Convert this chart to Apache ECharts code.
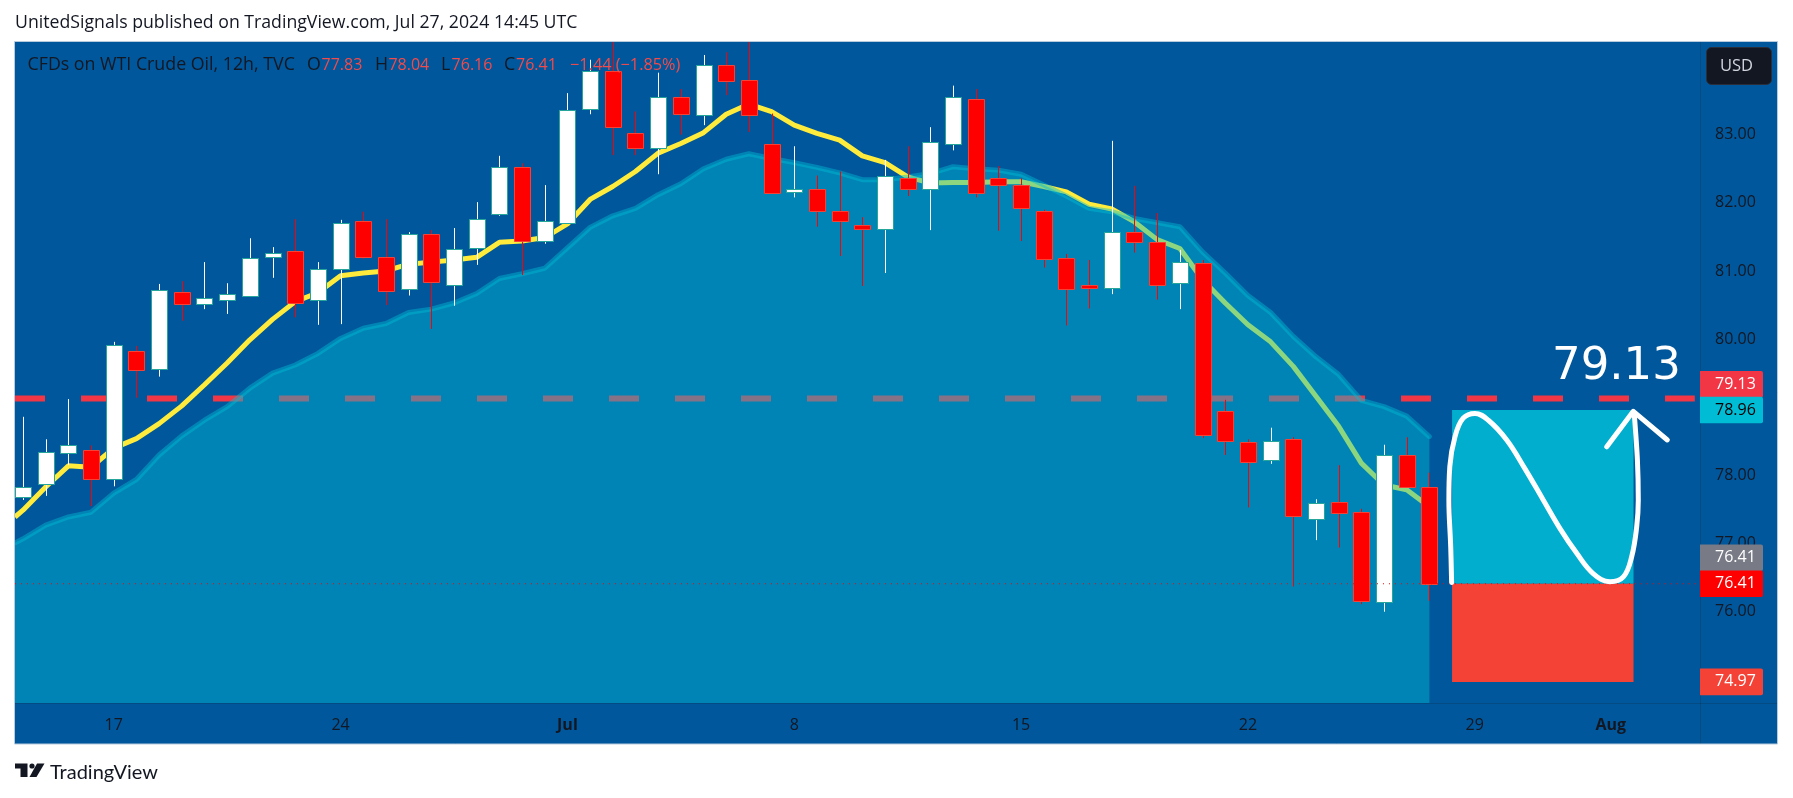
<!DOCTYPE html>
<html>
<head>
<meta charset="utf-8">
<title>CFDs on WTI Crude Oil, 12h</title>
<script src="https://cdn.jsdelivr.net/npm/echarts@6/dist/echarts.min.js"></script>
<style>
html, body { margin: 0; padding: 0; background: #fff; }
#main { width: 1793px; height: 798px; }
</style>
</head>
<body>
<div id="main"></div>
<script>
// OHLC per 12h bar
var opens = [77.68,77.87,78.33,78.37,77.94,79.82,79.56,80.69,80.51,80.58,80.64,81.21,81.29,80.58,81.03,81.73,81.20,80.73,81.54,80.79,81.33,81.83,82.52,81.44,81.71,83.38,83.93,83.03,82.81,83.56,83.29,84.03,83.80,82.86,82.16,82.21,81.88,81.67,81.61,82.36,82.21,82.86,83.53,82.36,82.26,81.88,81.19,80.80,80.75,81.57,81.42,80.83,81.11,78.94,78.49,78.22,78.53,77.36,77.61,77.46,76.14,78.30,77.83];
var highs = [78.86,78.53,79.12,78.44,79.96,79.90,80.81,80.85,81.13,80.82,81.48,81.35,81.76,81.13,81.75,81.87,81.76,81.57,81.60,81.63,82.01,82.69,82.58,82.26,83.61,84.10,84.50,83.34,83.91,83.67,84.17,84.21,84.50,83.31,82.83,82.40,82.46,81.79,82.63,82.83,83.11,83.72,83.67,82.54,82.36,81.90,81.25,81.16,82.91,82.25,81.85,81.31,81.16,79.11,78.53,78.70,78.56,77.65,78.15,77.51,78.45,78.56,78.04];
var lows = [77.64,77.70,78.15,77.55,77.84,79.14,79.45,80.27,80.44,80.37,80.62,80.90,80.32,80.21,80.22,81.18,80.50,80.64,80.15,80.49,81.09,81.81,80.94,81.40,81.70,83.30,82.70,82.70,82.42,83.00,83.14,83.58,83.04,82.14,82.08,81.65,81.22,80.78,80.97,82.10,81.60,82.77,82.08,81.59,81.44,81.05,80.20,80.45,80.66,81.27,80.58,80.44,78.55,78.30,77.53,78.17,76.37,77.05,76.94,76.11,76.00,77.83,76.16];
var closes = [77.83,78.34,78.44,77.95,79.92,79.54,80.72,80.51,80.60,80.66,81.19,81.27,80.53,81.03,81.70,81.20,80.71,81.54,80.84,81.32,81.76,82.52,81.44,81.73,83.36,83.93,83.12,82.81,83.56,83.31,84.03,83.79,83.29,82.15,82.21,81.88,81.74,81.61,82.40,82.21,82.89,83.55,82.14,82.26,81.93,81.18,80.73,80.75,81.57,81.42,80.80,81.13,78.59,78.50,78.19,78.51,77.41,77.59,77.45,76.15,78.30,77.83,76.41];

// moving averages, first value is where the line enters at the left edge of the plot
var fastMa = [77.39,77.49,77.83,78.14,78.12,78.40,78.54,78.76,79.02,79.33,79.65,79.99,80.29,80.55,80.68,80.93,80.97,81.00,81.10,81.13,81.16,81.20,81.42,81.44,81.49,81.69,82.05,82.24,82.46,82.73,82.87,83.03,83.30,83.45,83.34,83.14,83.02,82.92,82.69,82.59,82.38,82.29,82.30,82.30,82.31,82.31,82.24,82.16,81.98,81.91,81.72,81.46,81.33,80.87,80.53,80.21,79.96,79.60,79.16,78.72,78.18,77.86,77.79,77.54];
var slowMa = [77.01,77.07,77.27,77.39,77.46,77.74,77.94,78.30,78.58,78.81,79.01,79.28,79.50,79.62,79.79,80.01,80.16,80.23,80.39,80.44,80.53,80.67,80.89,80.96,81.04,81.34,81.64,81.81,81.92,82.12,82.28,82.50,82.64,82.72,82.65,82.59,82.52,82.44,82.34,82.34,82.38,82.43,82.53,82.50,82.48,82.42,82.26,82.10,81.92,81.87,81.77,81.71,81.65,81.28,80.97,80.64,80.39,80.04,79.74,79.48,79.10,79.01,78.87,78.57];

var yTicks = [76, 77, 78, 79, 80, 81, 82, 83];
var xTickBars = [4, 14, 24, 34, 44, 54, 64, 70];
var xTickLabels = ['17', '24', 'Jul', '8', '15', '22', '29', 'Aug'];

// long position drawing and the hand drawn arrow: [bar, price]
var targetPrice = 78.96;
var entryPrice = 76.41;
var stopPrice = 74.97;
var positionBars = [63, 71];
var resistance = 79.13;
var curvePoints = [[62.98,76.43],[62.94,76.95],[62.86,77.64],[62.90,78.13],[63.13,78.57],[63.49,78.84],[64.01,78.91],[64.60,78.81],[65.41,78.52],[66.21,78.10],[67.02,77.64],[67.76,77.22],[68.49,76.86],[69.22,76.56],[69.96,76.44],[70.55,76.51],[70.92,76.81],[71.14,77.25],[71.21,77.64],[71.17,78.23],[71.03,78.91]];
var arrowPoints = [[69.82,78.42],[70.99,78.94],[72.49,78.52]];

var tagValues = [79.13, 78.96, 76.41, 76.41, 74.97];
var tagShifts = [-14, 0, -26, 0, 0];
var tagFills = ['#F23645', '#00BCD4', '#787B86', '#FF0000', '#F44336'];
var tagTexts = ['#FFFFFF', '#000000', '#FFFFFF', '#FFFFFF', '#FFFFFF'];

var X_MIN = -0.353, X_MAX = 73.93;
var Y_MIN = 74.66, Y_MAX = 84.375;
var FONT = '"Open Sans", sans-serif';

var candleData = opens.map(function(o, i) {
	return [i, o, closes[i], lows[i], highs[i]];
});

function maPoints(values) {
	return values.map(function(v, i) { return [i === 0 ? X_MIN : i - 1, v]; });
}

function renderCandle(params, api) {
	var i = api.value(0), o = api.value(1), c = api.value(2);
	var up = c >= o;
	var x = Math.round(api.coord([i, o])[0]);
	var top = Math.round(api.coord([i, Math.max(o, c)])[1]);
	var bot = Math.round(api.coord([i, Math.min(o, c)])[1]);
	var hi = api.coord([i, api.value(4)])[1];
	var lo = api.coord([i, api.value(3)])[1];
	return {
		type: 'group',
		children: [{
			type: 'line',
			shape: { x1: x + 0.5, y1: hi, x2: x + 0.5, y2: lo },
			style: { stroke: up ? '#FFFFFF' : '#FF0000', lineWidth: 1 }
		}, {
			type: 'rect',
			shape: { x: x - 7.5, y: top + 0.5, width: 16, height: Math.max(bot - top, 3) },
			style: { fill: up ? '#FFFFFF' : '#FF0000', stroke: up ? '#26A69A' : '#F44336', lineWidth: 1 }
		}]
	};
}

function renderPositionBox(params, api) {
	var a = api.coord([api.value(0), api.value(2)]);
	var b = api.coord([api.value(1), api.value(3)]);
	return {
		type: 'rect',
		shape: { x: a[0], y: a[1], width: b[0] - a[0], height: b[1] - a[1] },
		style: { fill: params.dataIndex === 0 ? '#01AECD' : '#F44336' }
	};
}

function renderTag(params, api) {
	var i = params.dataIndex;
	var p = api.coord([api.value(0), api.value(1)]);
	var h = 26.6;
	var y = p[1] + tagShifts[i] - h / 2;
	return {
		type: 'group',
		children: [{
			type: 'rect',
			shape: { x: p[0], y: y, width: 63, height: h, r: [0, 2, 2, 0] },
			style: { fill: tagFills[i] }
		}, {
			type: 'text',
			style: {
				x: p[0] + 15, y: y + h / 2, text: tagValues[i].toFixed(2), fill: tagTexts[i],
				font: '16px ' + FONT, textVerticalAlign: 'middle'
			}
		}]
	};
}

function label(text, x, y, fill, font) {
	return {
		type: 'text', z: 100, x: x, y: y,
		style: { text: text, fill: fill, font: font, textVerticalAlign: 'middle' }
	};
}

var DARK = '#131722', RED = '#F44A4A';
var wordFont = '17.8px ' + FONT;
var numFont = '16px ' + FONT;
var LEGEND_Y = 65;

var option = {
	animation: false,
	backgroundColor: '#FFFFFF',
	grid: { left: 15, right: 93, top: 41, bottom: 95 },
	xAxis: {
		type: 'value', min: X_MIN, max: X_MAX,
		splitLine: { show: false }, axisLine: { show: false }, axisTick: { show: false },
		axisLabel: {
			customValues: xTickBars, color: DARK, margin: 14, fontFamily: FONT, fontSize: 16,
			formatter: function(v) {
				var s = xTickLabels[xTickBars.indexOf(v)];
				return (s === 'Jul' || s === 'Aug') ? '{b|' + s + '}' : s;
			},
			rich: { b: { fontWeight: 'bold', color: DARK, fontFamily: FONT, fontSize: 16 } }
		}
	},
	yAxis: {
		type: 'value', position: 'right', min: Y_MIN, max: Y_MAX, scale: true,
		splitLine: { show: false }, axisLine: { show: false }, axisTick: { show: false },
		axisLabel: {
			customValues: yTicks, color: DARK, margin: 15, fontFamily: FONT, fontSize: 16,
			padding: [2, 0, 0, 0],
			formatter: function(v) { return v.toFixed(2); }
		}
	},
	series: [{
		name: 'position', type: 'custom', z: 2, clip: false,
		encode: { x: [0, 1], y: [2, 3] },
		data: [[positionBars[0], positionBars[1], targetPrice, entryPrice],
			[positionBars[0], positionBars[1], entryPrice, stopPrice]],
		renderItem: renderPositionBox
	}, {
		name: 'resistance', type: 'line', z: 3, symbol: 'none',
		data: [[X_MIN, resistance], [73.7, resistance]],
		lineStyle: { color: '#F23645', width: 6, type: [30, 36] }
	}, {
		name: 'fast', type: 'line', z: 4, symbol: 'none',
		data: maPoints(fastMa),
		lineStyle: { color: '#FFEB3B', width: 5 }
	}, {
		name: 'slow', type: 'line', z: 5, symbol: 'none',
		data: maPoints(slowMa),
		lineStyle: { color: 'rgba(0,188,212,0.45)', width: 5, cap: 'round' },
		areaStyle: { color: 'rgba(0,188,212,0.45)', origin: 'start', opacity: 1 }
	}, {
		name: 'WTI', type: 'custom', z: 6, clip: true,
		encode: { x: 0, y: [1, 2, 3, 4] },
		data: candleData,
		renderItem: renderCandle
	}, {
		name: 'last', type: 'line', z: 7, symbol: 'none',
		data: [[X_MIN, closes[closes.length - 1]], [X_MAX, closes[closes.length - 1]]],
		lineStyle: { color: '#FF0000', width: 1, type: [1, 5] }
	}, {
		name: 'curve', type: 'line', z: 8, symbol: 'none', smooth: 0.4,
		data: curvePoints,
		lineStyle: { color: '#FFFFFF', width: 5, cap: 'round', join: 'round' }
	}, {
		name: 'arrow', type: 'line', z: 8, symbol: 'none',
		data: arrowPoints,
		lineStyle: { color: '#FFFFFF', width: 5, cap: 'round', join: 'round' }
	}, {
		name: 'tags', type: 'custom', z: 10, clip: false,
		encode: { x: 0, y: 1 },
		data: tagValues.map(function(v) { return [X_MAX, v]; }),
		renderItem: renderTag
	}],
	graphic: [
		{ type: 'rect', z: -10, shape: { x: 14.5, y: 41.5, width: 1763, height: 702.5 },
			style: { fill: '#01579B' } },
		{ type: 'line', z: -9, shape: { x1: 15, y1: 703.5, x2: 1777, y2: 703.5 },
			style: { stroke: 'rgba(19,23,34,0.2)', lineWidth: 1 } },
		{ type: 'line', z: -9, shape: { x1: 1700.5, y1: 42, x2: 1700.5, y2: 744 },
			style: { stroke: 'rgba(19,23,34,0.2)', lineWidth: 1 } },
		// the area clip is a little wider than the grid, keep the page margin white
		{ type: 'rect', z: 50, shape: { x: 0, y: 41, width: 14.5, height: 703 }, style: { fill: '#FFFFFF' } },
		{ type: 'rect', z: 51, shape: { x: 14.5, y: 41.5, width: 1763, height: 702.5 },
			style: { fill: 'none', stroke: '#B8CBDC', lineWidth: 1 } },

		label('UnitedSignals published on TradingView.com, Jul 27, 2024 14:45 UTC', 15, 23, DARK, '17.7px ' + FONT),

		label('CFDs on WTI Crude Oil, 12h, TVC', 27.5, LEGEND_Y, DARK, wordFont),
		label('O', 307, LEGEND_Y, DARK, wordFont),
		label('77.83', 321.5, LEGEND_Y, RED, numFont),
		label('H', 375, LEGEND_Y, DARK, wordFont),
		label('78.04', 388.4, LEGEND_Y, RED, numFont),
		label('L', 441, LEGEND_Y, DARK, wordFont),
		label('76.16', 451.6, LEGEND_Y, RED, numFont),
		label('C', 504, LEGEND_Y, DARK, wordFont),
		label('76.41', 516, LEGEND_Y, RED, numFont),
		label('\u22121.44 (\u22121.85%)', 570, LEGEND_Y, RED, '16.3px ' + FONT),

		label('79.13', 1552, 367, '#FFFFFF', '45px "DejaVu Sans", sans-serif'),

		{ type: 'rect', z: 100, shape: { x: 1706.5, y: 47.5, width: 65, height: 37, r: 5 },
			style: { fill: DARK, stroke: '#2A2E39', lineWidth: 1 } },
		label('USD', 1720, 66, '#D1D4DC', '16.5px ' + FONT),

		{ type: 'polygon', z: 100, shape: { points: [[15, 763.5], [27.5, 763.5], [27.5, 777], [20.5, 777], [20.5, 768.5], [15, 768.5]] },
			style: { fill: DARK } },
		{ type: 'circle', z: 100, shape: { cx: 32, cy: 766, r: 2.6 }, style: { fill: DARK } },
		{ type: 'polygon', z: 100, shape: { points: [[37, 763.5], [44.5, 763.5], [36.5, 777], [29.5, 777]] },
			style: { fill: DARK } },
		label('TradingView', 50, 773, DARK, '20px Lato, ' + FONT)
	]
};

var myChart = echarts.init(document.getElementById('main'));
myChart.setOption(option);
</script>
</body>
</html>
